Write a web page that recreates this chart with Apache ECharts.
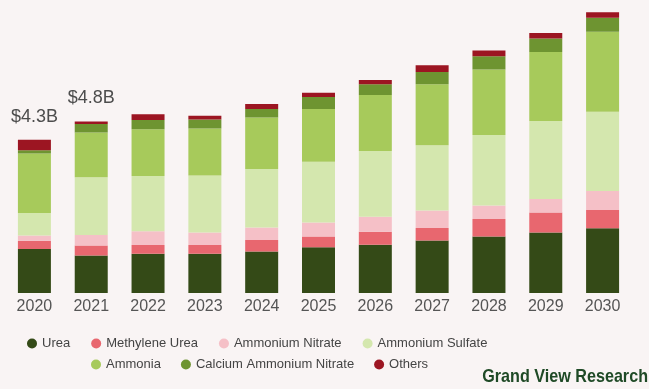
<!DOCTYPE html>
<html>
<head>
<meta charset="utf-8">
<script src="https://cdn.jsdelivr.net/npm/echarts@6/dist/echarts.min.js"></script>
<style>
html,body{margin:0;padding:0;background:#f9f4f4;}
#chart{width:649px;height:389px;}
</style>
</head>
<body>
<div id="chart"></div>
<script>
var years = ['2020','2021','2022','2023','2024','2025','2026','2027','2028','2029','2030'];
var urea = [1.23,1.05,1.10,1.10,1.16,1.28,1.35,1.47,1.58,1.69,1.81];
var methyleneUrea = [0.23,0.28,0.24,0.24,0.32,0.30,0.36,0.35,0.49,0.56,0.51];
var ammoniumNitrate = [0.15,0.29,0.39,0.35,0.35,0.39,0.42,0.49,0.38,0.38,0.53];
var ammoniumSulfate = [0.63,1.62,1.54,1.60,1.64,1.70,1.84,1.82,1.97,2.18,2.22];
var ammonia = [1.66,1.25,1.31,1.31,1.44,1.48,1.57,1.71,1.83,1.93,2.24];
var calciumAmmoniumNitrate = [0.09,0.24,0.26,0.25,0.24,0.33,0.30,0.34,0.37,0.38,0.39];
var others = [0.30,0.07,0.16,0.11,0.14,0.12,0.12,0.19,0.16,0.15,0.15];
var totalLabels = ['$4.3B','$4.8B','','','','','','','','',''];

var names = ['Urea','Methylene Urea','Ammonium Nitrate','Ammonium Sulfate','Ammonia','Calcium Ammonium Nitrate','Others'];
var colors = ['#344a17','#e8676f','#f5c0c7','#d4e7ae','#a7ca5b','#6e9431','#9c1522'];
var values = [urea, methyleneUrea, ammoniumNitrate, ammoniumSulfate, ammonia, calciumAmmoniumNitrate, others];

var series = names.map(function(n, i){
  var data = values[i].map(function(v, j){
    if (i === names.length - 1 && totalLabels[j]) {
      return {value: v, label: {show: true, position: 'top', distance: 14, formatter: totalLabels[j],
        fontSize: 18, color: '#4d4d4d', fontFamily: 'Liberation Sans'}};
    }
    return v;
  });
  return {name: n, type: 'bar', stack: 'total', barWidth: 33, itemStyle: {color: colors[i]}, data: data};
});

var chart = echarts.init(document.getElementById('chart'), null, {renderer: 'canvas'});
chart.setOption({
  backgroundColor: '#f9f4f4',
  animation: false,
  color: colors,
  grid: {left: 6, right: 18, top: 7, bottom: 96},
  xAxis: {type: 'category', data: years, axisLine: {show: false}, axisTick: {show: false},
    axisLabel: {margin: 6, fontSize: 16, color: '#555', fontFamily: 'Liberation Sans'}},
  yAxis: {type: 'value', min: 0, max: 8, show: false, splitLine: {show: false}},
  legend: [
    {data: names.slice(0,4), left: 22, top: 332, icon: 'circle', itemWidth: 10, itemHeight: 10, itemGap: 21,
      textStyle: {fontSize: 13, color: '#444', fontFamily: 'Liberation Sans'}},
    {data: names.slice(4), left: 86, top: 353, icon: 'circle', itemWidth: 10, itemHeight: 10, itemGap: 20,
      textStyle: {fontSize: 13, color: '#444', fontFamily: 'Liberation Sans'}}
  ],
  graphic: [{type: 'text', right: 1, top: 367, scaleX: 0.85,
    style: {text: 'Grand View Research', fontSize: 19, fontWeight: 'bold', fill: '#1f4a26', fontFamily: 'Liberation Sans'}}],
  series: series
});
</script>
</body>
</html>
